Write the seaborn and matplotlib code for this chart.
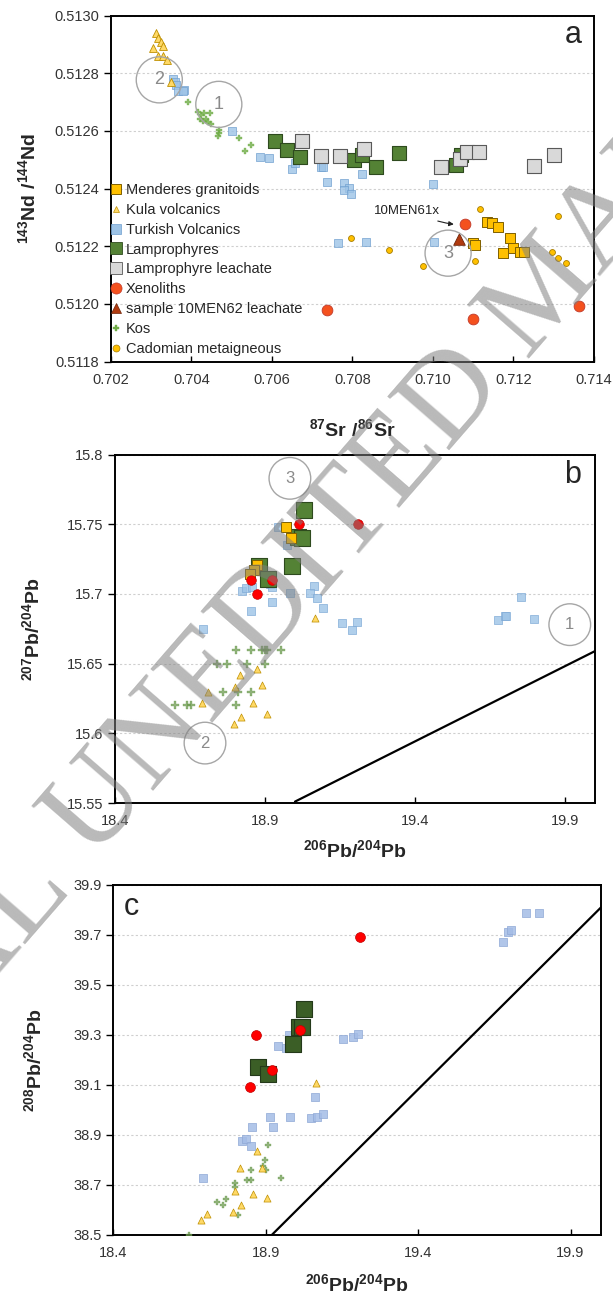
import matplotlib
matplotlib.use('Agg')
import matplotlib.pyplot as plt
from matplotlib.lines import Line2D
import seaborn as sns

# ---------------- data: panel a (87Sr/86Sr vs 143Nd/144Nd) ----------------
menderes_a_sr = [0.71134, 0.71148, 0.71163, 0.71192, 0.71100, 0.71105, 0.71175, 0.71200, 0.71218, 0.71227]
menderes_a_nd = [0.512285, 0.512280, 0.512266, 0.512228, 0.512212, 0.512205, 0.512178, 0.512193, 0.512181, 0.512181]
kula_a_sr = [0.70312, 0.70318, 0.70324, 0.70330, 0.70305, 0.70316, 0.70329, 0.70339, 0.70349]
kula_a_nd = [0.512939, 0.512921, 0.512910, 0.512896, 0.512887, 0.512860, 0.512858, 0.512846, 0.512771]
turkish_a_sr = [0.70355, 0.70360, 0.70362, 0.70367, 0.70382, 0.70378, 0.70500, 0.70571, 0.70594,
                0.70649, 0.70657, 0.70723, 0.70728, 0.70737, 0.70779, 0.70791, 0.70779, 0.70796,
                0.70824, 0.71001, 0.70765, 0.70835, 0.71003]
turkish_a_nd = [0.512780, 0.512770, 0.512760, 0.512739, 0.512742, 0.512738, 0.512598, 0.512508, 0.512505,
                0.512467, 0.512490, 0.512476, 0.512476, 0.512424, 0.512418, 0.512401, 0.512395, 0.512381,
                0.512451, 0.512416, 0.512212, 0.512214, 0.512216]
lamp_a_sr = [0.70607, 0.70638, 0.70671, 0.70804, 0.70825, 0.70860, 0.70916, 0.71057, 0.71070]
lamp_a_nd = [0.512566, 0.512534, 0.512511, 0.512499, 0.512515, 0.512474, 0.512522, 0.512482, 0.512515]
leach_a_sr = [0.70675, 0.70723, 0.70769, 0.70830, 0.71020, 0.71067, 0.71084, 0.71114, 0.71252, 0.71301]
leach_a_nd = [0.512566, 0.512513, 0.512513, 0.512536, 0.512476, 0.512502, 0.512528, 0.512528, 0.512479, 0.512516]
xeno_a_sr = [0.70737, 0.71080, 0.71099, 0.71363]
xeno_a_nd = [0.511980, 0.512277, 0.511947, 0.511993]
men62_a_sr = [0.71065]
men62_a_nd = [0.512224]
kos_a_sr = [0.70392, 0.70417, 0.70424, 0.70432, 0.70447, 0.70422, 0.70436, 0.70440, 0.70449, 0.70428,
            0.70469, 0.70468, 0.70465, 0.70519, 0.70547, 0.70532]
kos_a_nd = [0.512699, 0.512667, 0.512655, 0.512661, 0.512661, 0.512642, 0.512642, 0.512632, 0.512623, 0.512635,
            0.512603, 0.512592, 0.512584, 0.512577, 0.512551, 0.512532]
cad_a_sr = [0.70796, 0.70892, 0.70976, 0.71105, 0.71117, 0.71312, 0.71297, 0.71312, 0.71330]
cad_a_nd = [0.512227, 0.512188, 0.512132, 0.512150, 0.512330, 0.512304, 0.512179, 0.512158, 0.512141]

# ---------------- data: panel b (206Pb/204Pb vs 207Pb/204Pb) ----------------
lamp_b_x = [19.031, 19.010, 19.025, 18.881, 18.989, 18.909]
lamp_b_y = [15.760, 15.741, 15.740, 15.720, 15.720, 15.711]
men_b_x = [18.969, 18.987, 18.874, 18.863, 18.850]
men_b_y = [15.748, 15.740, 15.721, 15.717, 15.714]
xeno_b_x = [19.013, 19.209, 18.853, 18.922, 18.872]
xeno_b_y = [15.750, 15.750, 15.710, 15.710, 15.700]
turk_b_x = [18.942, 18.972, 18.822, 18.836, 18.856, 18.917, 18.923, 18.983, 19.064, 19.050, 19.072, 19.094,
            18.924, 18.853, 18.694, 19.158, 19.191, 19.206, 19.676, 19.699, 19.705, 19.753, 19.796]
turk_b_y = [15.748, 15.735, 15.702, 15.704, 15.705, 15.707, 15.705, 15.701, 15.706, 15.701, 15.697, 15.690,
            15.694, 15.688, 15.675, 15.679, 15.674, 15.680, 15.681, 15.684, 15.684, 15.698, 15.682]
kula_b_x = [18.874, 18.817, 18.800, 18.891, 18.709, 18.691, 18.861, 18.906, 18.820, 18.797, 19.067]
kula_b_y = [15.646, 15.642, 15.633, 15.635, 15.630, 15.622, 15.622, 15.614, 15.612, 15.607, 15.683]
kos_b_x = [18.803, 18.852, 18.891, 18.900, 18.908, 18.952, 18.741, 18.772, 18.841, 18.900,
           18.761, 18.811, 18.852, 18.600, 18.641, 18.652, 18.803]
kos_b_y = [15.66, 15.66, 15.66, 15.66, 15.66, 15.66, 15.65, 15.65, 15.65, 15.65,
           15.63, 15.63, 15.63, 15.62, 15.62, 15.62, 15.62]
nhrl_b_x = [19.0, 20.0]
nhrl_b_y = [15.551, 15.659]

# ---------------- data: panel c (206Pb/204Pb vs 208Pb/204Pb) ----------------
lamp_c_x = [18.876, 18.908, 18.989, 19.008, 19.020, 19.027]
lamp_c_y = [39.170, 39.145, 39.264, 39.330, 39.332, 39.404]
xeno_c_x = [19.210, 18.869, 19.011, 18.921, 18.848]
xeno_c_y = [39.691, 39.301, 39.321, 39.160, 39.091]
turk_c_x = [19.679, 19.696, 19.705, 19.753, 19.797, 18.940, 18.968, 18.975, 19.154, 19.188, 19.203, 19.062,
            18.914, 18.980, 19.048, 19.069, 19.087, 18.856, 18.923, 18.821, 18.835, 18.851, 18.693]
turk_c_y = [39.673, 39.711, 39.721, 39.787, 39.787, 39.257, 39.247, 39.301, 39.284, 39.293, 39.304, 39.053,
            38.973, 38.973, 38.967, 38.973, 38.983, 38.933, 38.933, 38.876, 38.883, 38.857, 38.729]
kula_c_x = [19.064, 18.870, 18.816, 18.889, 18.799, 18.859, 18.903, 18.818, 18.794, 18.706, 18.687]
kula_c_y = [39.109, 38.837, 38.769, 38.767, 38.677, 38.663, 38.649, 38.620, 38.591, 38.583, 38.560]
kos_c_x = [18.909, 18.898, 18.892, 18.900, 18.851, 18.949, 18.838, 18.851, 18.799, 18.799,
           18.739, 18.770, 18.759, 18.808, 18.648]
kos_c_y = [38.860, 38.800, 38.776, 38.760, 38.760, 38.729, 38.720, 38.720, 38.709, 38.691,
           38.631, 38.643, 38.620, 38.580, 38.500]
nhrl_c_x = [18.92, 20.0]
nhrl_c_y = [38.50, 39.81]

# numbered field circles
circles_a = [(0.70320, 0.512777, '2'), (0.70468, 0.512692, '1'), (0.71038, 0.512176, '3')]
circles_b = [(18.983, 15.783, '3'), (19.916, 15.678, '1'), (18.700, 15.593, '2')]

# ticks
xticks_a = [0.702, 0.704, 0.706, 0.708, 0.710, 0.712, 0.714]
yticks_a = [0.5118, 0.5120, 0.5122, 0.5124, 0.5126, 0.5128, 0.5130]
xticks_pb = [18.4, 18.9, 19.4, 19.9]
yticks_b = [15.55, 15.6, 15.65, 15.7, 15.75, 15.8]
yticks_b_labels = ['15.55', '15.6', '15.65', '15.7', '15.75', '15.8']
yticks_c = [38.5, 38.7, 38.9, 39.1, 39.3, 39.5, 39.7, 39.9]

# ---------------- style ----------------
sns.set_style('white')
plt.rcParams['font.family'] = ['Liberation Sans', 'DejaVu Sans']
plt.rcParams['mathtext.fontset'] = 'custom'
plt.rcParams['mathtext.rm'] = 'Liberation Sans'
plt.rcParams['mathtext.bf'] = 'Liberation Sans:bold'

fig = plt.figure(figsize=(6.13, 12.96), dpi=100)
ax_a = fig.add_axes([0.1811, 0.7210, 0.7874, 0.2670])
ax_b = fig.add_axes([0.1876, 0.3804, 0.7830, 0.2688])
ax_c = fig.add_axes([0.1848, 0.0471, 0.7956, 0.2701])


def pts(ax, x, y, marker, s, face, edge, lw=0.6, alpha=1.0, z=3):
    sns.scatterplot(x=x, y=y, marker=marker, s=s, color=face, edgecolor=edge,
                    linewidth=lw, alpha=alpha, zorder=z, ax=ax, legend=False)


def style(ax, xlim, ylim, xticks, yticks, xlabels, ylabels):
    ax.set_xlim(xlim)
    ax.set_ylim(ylim)
    ax.set_xticks(xticks)
    ax.set_xticklabels(xlabels)
    ax.set_yticks(yticks)
    ax.set_yticklabels(ylabels)
    ax.set_axisbelow(True)
    ax.yaxis.grid(True, color='#cfcfcf', linestyle=(0, (2, 2)), linewidth=0.8)
    ax.xaxis.grid(False)
    for sp in ax.spines.values():
        sp.set_color('black')
        sp.set_linewidth(1.4)
    ax.tick_params(axis='y', direction='out', length=5, width=1, labelsize=10.5,
                   colors='black', labelcolor='#333333', left=True)
    ax.tick_params(axis='x', direction='in', length=4, width=1, labelsize=10.5,
                   colors='black', labelcolor='#333333', bottom=True, pad=8)
    ax.set_xlabel('')
    ax.set_ylabel('')


def field_circles(ax, items, s, fs):
    for cx, cy, lab in items:
        ax.scatter([cx], [cy], s=s, facecolor='none', edgecolor='#a6a6a6', linewidth=1.0, zorder=6)
        ax.text(cx, cy, lab, ha='center', va='center', fontsize=fs, color='#8a8a8a', zorder=6)


# ---------------- panel a ----------------
pts(ax_a, turkish_a_sr, turkish_a_nd, 's', 30, '#9DC3E6', '#6F9FCF', alpha=0.8, z=3)
pts(ax_a, kula_a_sr, kula_a_nd, '^', 32, '#FFD966', '#BF9000', z=3)
pts(ax_a, kos_a_sr, kos_a_nd, 'P', 22, '#70AD47', '#70AD47', lw=0.3, alpha=0.8, z=3)
pts(ax_a, lamp_a_sr, lamp_a_nd, 's', 110, '#548235', '#2E4A1E', lw=0.8, z=4)
pts(ax_a, leach_a_sr, leach_a_nd, 's', 110, '#D9D9D9', '#595959', lw=0.8, z=4)
pts(ax_a, cad_a_sr, cad_a_nd, 'o', 18, '#FFC000', '#A67C00', z=4)
pts(ax_a, menderes_a_sr, menderes_a_nd, 's', 60, '#FFC000', '#7F6000', lw=0.7, z=5)
pts(ax_a, xeno_a_sr, xeno_a_nd, 'o', 60, '#F4511E', '#C0392B', lw=0.6, z=5)
pts(ax_a, men62_a_sr, men62_a_nd, '^', 70, '#B03A0F', '#6E2408', lw=0.6, z=5)
field_circles(ax_a, circles_a, 1100, 13)

style(ax_a, (0.702, 0.714), (0.5118, 0.5130), xticks_a, yticks_a,
      ['%.3f' % v for v in xticks_a], ['%.4f' % v for v in yticks_a])
ax_a.set_xlabel(r'$\mathbf{^{87}Sr\ /^{86}Sr}$', fontsize=14)
ax_a.xaxis.set_label_coords(0.5, -0.165)
ax_a.set_ylabel(r'$\mathbf{^{143}Nd\ /^{144}Nd}$', fontsize=14)
ax_a.yaxis.set_label_coords(-0.15, 0.5)
ax_a.text(0.957, 0.944, 'a', transform=ax_a.transAxes, ha='center', va='center', fontsize=22)

ax_a.annotate('10MEN61x', xy=(0.71066, 0.512275), xytext=(0.70935, 0.512322),
              ha='center', va='center', fontsize=9.5, color='#222222',
              arrowprops=dict(arrowstyle='-|>', color='#222222', lw=0.8, mutation_scale=7,
                              connectionstyle='angle3,angleA=-20,angleB=0', shrinkA=2, shrinkB=4),
              zorder=7)

handles = [
    Line2D([], [], ls='', marker='s', ms=7, mfc='#FFC000', mec='#7F6000', mew=0.7, label='Menderes granitoids'),
    Line2D([], [], ls='', marker='^', ms=5, mfc='#FFD966', mec='#BF9000', mew=0.5, label='Kula volcanics'),
    Line2D([], [], ls='', marker='s', ms=7, mfc='#9DC3E6', mec='#6F9FCF', mew=0.5, label='Turkish Volcanics'),
    Line2D([], [], ls='', marker='s', ms=8, mfc='#548235', mec='#2E4A1E', mew=0.6, label='Lamprophyres'),
    Line2D([], [], ls='', marker='s', ms=8, mfc='#D9D9D9', mec='#595959', mew=0.6, label='Lamprophyre leachate'),
    Line2D([], [], ls='', marker='o', ms=8, mfc='#F4511E', mec='#C0392B', mew=0.5, label='Xenoliths'),
    Line2D([], [], ls='', marker='^', ms=7, mfc='#B03A0F', mec='#6E2408', mew=0.5, label='sample 10MEN62 leachate'),
    Line2D([], [], ls='', marker='P', ms=4, mfc='#70AD47', mec='#70AD47', mew=0.3, label='Kos'),
    Line2D([], [], ls='', marker='o', ms=5, mfc='#FFC000', mec='#A67C00', mew=0.5, label='Cadomian metaigneous'),
]
ax_a.legend(handles=handles, loc='lower left', bbox_to_anchor=(-0.012, 0.0), frameon=False,
            fontsize=10.5, handlelength=0.7, handletextpad=0.3, labelspacing=0.40,
            borderaxespad=0.2, borderpad=0.2)

# ---------------- panel b ----------------
sns.lineplot(x=nhrl_b_x, y=nhrl_b_y, color='black', linewidth=1.6, ax=ax_b, zorder=2)
pts(ax_b, kos_b_x, kos_b_y, 'P', 26, '#6B9A4E', '#6B9A4E', lw=0.3, alpha=0.75, z=3)
pts(ax_b, kula_b_x, kula_b_y, '^', 26, '#FFD966', '#BF9000', lw=0.5, z=3)
pts(ax_b, turk_b_x, turk_b_y, 's', 40, '#9DC3E6', '#7FAAD6', alpha=0.8, z=3)
pts(ax_b, lamp_b_x, lamp_b_y, 's', 120, '#548235', '#2E4A1E', lw=0.8, z=4)
pts(ax_b, men_b_x, men_b_y, 's', 42, '#FFC000', '#7F6000', lw=0.7, z=5)
pts(ax_b, xeno_b_x, xeno_b_y, 'o', 48, '#FF0000', '#C00000', lw=0.5, z=5)
field_circles(ax_b, circles_b, 900, 12)

style(ax_b, (18.4, 20.0), (15.55, 15.8), xticks_pb, yticks_b,
      ['%.1f' % v for v in xticks_pb], yticks_b_labels)
ax_b.set_xlabel(r'$\mathbf{^{206}Pb/^{204}Pb}$', fontsize=14)
ax_b.xaxis.set_label_coords(0.5, -0.105)
ax_b.set_ylabel(r'$\mathbf{^{207}Pb/^{204}Pb}$', fontsize=14)
ax_b.yaxis.set_label_coords(-0.15, 0.5)
ax_b.text(0.954, 0.941, 'b', transform=ax_b.transAxes, ha='center', va='center', fontsize=22)

# ---------------- panel c ----------------
sns.lineplot(x=nhrl_c_x, y=nhrl_c_y, color='black', linewidth=1.6, ax=ax_c, zorder=2)
pts(ax_c, kos_c_x, kos_c_y, 'P', 24, '#6B9A4E', '#6B9A4E', lw=0.3, alpha=0.75, z=3)
pts(ax_c, kula_c_x, kula_c_y, '^', 26, '#FFD966', '#BF9000', lw=0.5, z=3)
pts(ax_c, turk_c_x, turk_c_y, 's', 40, '#A4BCE6', '#8FA9D6', alpha=0.85, z=3)
pts(ax_c, lamp_c_x, lamp_c_y, 's', 120, '#3B5E26', '#24391A', lw=0.8, z=4)
pts(ax_c, xeno_c_x, xeno_c_y, 'o', 50, '#FF0000', '#C00000', lw=0.5, z=5)

style(ax_c, (18.4, 20.0), (38.5, 39.9), xticks_pb, yticks_c,
      ['%.1f' % v for v in xticks_pb], ['%.1f' % v for v in yticks_c])
ax_c.set_xlabel(r'$\mathbf{^{206}Pb/^{204}Pb}$', fontsize=14)
ax_c.xaxis.set_label_coords(0.5, -0.11)
ax_c.set_ylabel(r'$\mathbf{^{208}Pb/^{204}Pb}$', fontsize=14)
ax_c.yaxis.set_label_coords(-0.14, 0.5)
ax_c.text(0.037, 0.937, 'c', transform=ax_c.transAxes, ha='center', va='center', fontsize=22)

# ---------------- watermark ----------------
wm = dict(rotation=49, rotation_mode='anchor', va='baseline', fontsize=90,
          family=['Liberation Serif', 'DejaVu Serif'], color='#808080', alpha=0.55, zorder=20)
fig.text(0.150, 0.335, 'UNEDITED MANUSCRIPT', ha='left', **wm)
fig.text(0.150 - 20 / 613, 0.335 - 23 / 1296, 'ORIGINAL', ha='right', **wm)

fig.savefig('out.png', dpi=100)
